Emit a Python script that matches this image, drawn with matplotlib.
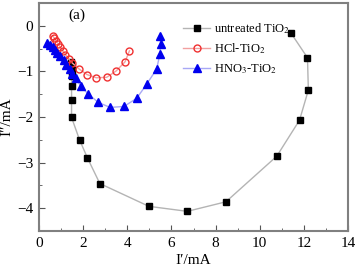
import matplotlib
matplotlib.use('Agg')
import matplotlib.pyplot as plt
from matplotlib.ticker import MultipleLocator

plt.rcParams['font.family'] = ['Liberation Serif', 'DejaVu Serif']
plt.rcParams['mathtext.fontset'] = 'stix'

# -- data ---------------------------------------------------------------------
untreated_x = [1.45, 1.5, 1.5, 1.5, 1.48, 1.48, 1.48, 1.84, 2.2, 2.76, 4.98,
               6.72, 8.47, 10.77, 11.8, 12.2, 12.16, 11.4]
untreated_y = [-0.8, -0.9, -1.0, -1.1, -1.31, -1.63, -2.01, -2.5, -2.9, -3.46,
               -3.96, -4.07, -3.86, -2.86, -2.07, -1.41, -0.7, -0.15]

hcl_x = [0.62, 0.7, 0.78, 0.88, 0.97, 1.08, 1.2, 1.35, 1.52, 1.83, 2.18,
         2.6, 3.07, 3.5, 3.9, 4.1]
hcl_y = [-0.22, -0.27, -0.33, -0.4, -0.47, -0.55, -0.63, -0.73, -0.82, -0.95,
         -1.07, -1.14, -1.13, -0.99, -0.79, -0.55]

hno3_x = [0.35, 0.5, 0.62, 0.72, 0.83, 0.95, 1.13, 1.25, 1.4, 1.52, 1.68,
          1.89, 2.24, 2.69, 3.22, 3.85, 4.43, 4.88, 5.33, 5.48, 5.51, 5.48]
hno3_y = [-0.37, -0.42, -0.47, -0.53, -0.59, -0.66, -0.75, -0.86, -0.95, -1.05,
          -1.15, -1.32, -1.5, -1.68, -1.79, -1.77, -1.59, -1.28, -0.95, -0.62,
          -0.4, -0.22]

labels = ['untreated TiO$_2$', 'HCl-TiO$_2$', 'HNO$_3$-TiO$_2$']

fig = plt.figure(figsize=(3.6, 2.73), dpi=100)
ax = fig.add_axes([0.108, 0.154, 0.859, 0.835])

ax.plot(untreated_x, untreated_y, color='#b4b4b4', lw=1.0, marker='s',
        ms=4, mfc='black', mec='black', label=labels[0])
ax.plot(hcl_x, hcl_y, color='#f2a0a0', lw=1.0, marker='o', ms=5,
        mfc='none', mec='#f03030', mew=1.0, label=labels[1])
ax.plot(hno3_x, hno3_y, color='#a8a8f5', lw=1.0, marker='^', ms=5.5,
        mfc='#0000ee', mec='#0000ee', label=labels[2])

ax.set_xlim(0, 14)
ax.set_ylim(-4.5, 0.5)
ax.xaxis.set_major_locator(MultipleLocator(2))
ax.xaxis.set_minor_locator(MultipleLocator(1))
ax.yaxis.set_major_locator(MultipleLocator(1))
ax.yaxis.set_minor_locator(MultipleLocator(0.5))
ax.tick_params(which='both', direction='in', top=False, right=False,
               labelsize=11, color='#555555', pad=4)
ax.tick_params(which='major', length=4)
ax.tick_params(which='minor', length=2)
for s in ax.spines.values():
    s.set_color('#808080')
    s.set_linewidth(1.5)

ax.set_xlabel('I\u2032/mA', fontsize=11, labelpad=3)
ax.set_ylabel('I\u2033/mA', fontsize=11, labelpad=3)
ax.text(0.095, 0.93, '(a)', transform=ax.transAxes, fontsize=11)

ax.legend(loc='upper left', bbox_to_anchor=(0.466, 0.92), frameon=False,
          fontsize=9, handlelength=2.2, handletextpad=0.3,
          labelspacing=0.45, borderpad=0, borderaxespad=0)

fig.savefig('out.png', dpi=100)
